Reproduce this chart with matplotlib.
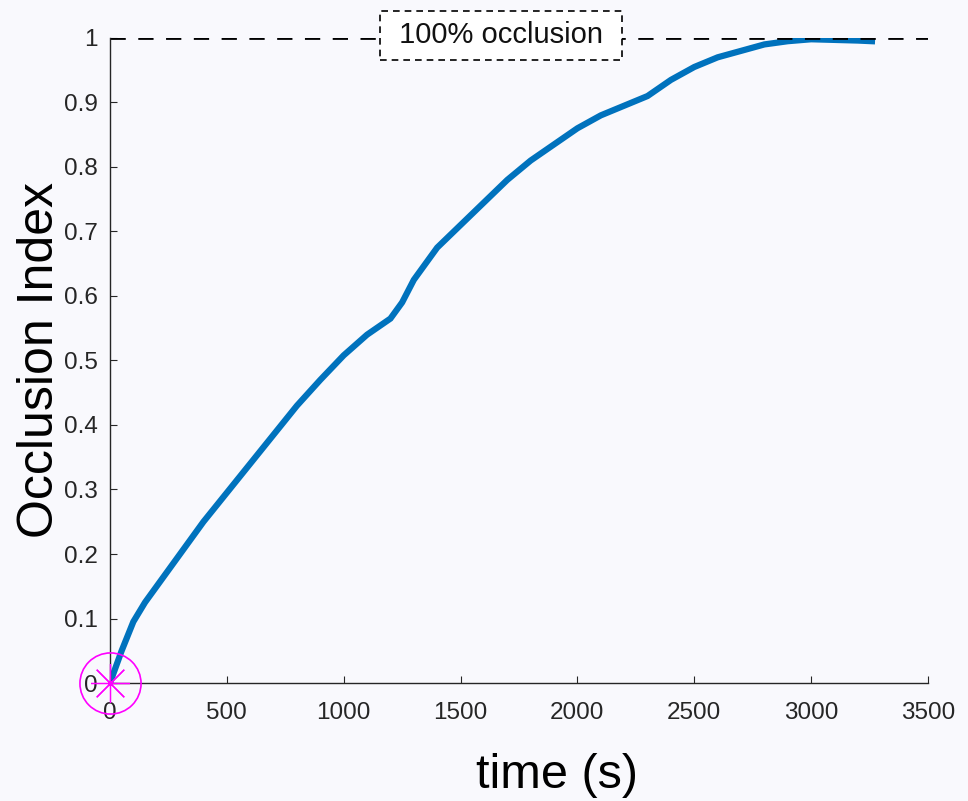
import numpy as np
import matplotlib.pyplot as plt

plt.rcParams['font.family'] = ['Liberation Sans', 'DejaVu Sans']

# occlusion index
time_s = [0, 50, 100, 150, 200, 300, 400, 500, 600, 700, 800, 900, 1000,
          1100, 1200, 1250, 1300, 1400, 1500, 1600, 1700, 1800, 1900, 2000,
          2100, 2200, 2300, 2400, 2500, 2600, 2700, 2800, 2900, 3000, 3100,
          3200, 3260]
occlusion = [0, 0.05, 0.095, 0.125, 0.15, 0.20, 0.25, 0.295, 0.34, 0.385,
             0.43, 0.47, 0.508, 0.54, 0.565, 0.59, 0.625, 0.675, 0.71, 0.745,
             0.78, 0.81, 0.835, 0.86, 0.88, 0.895, 0.91, 0.935, 0.955, 0.97,
             0.98, 0.99, 0.995, 0.998, 0.997, 0.996, 0.995]

x_ticks = [0, 500, 1000, 1500, 2000, 2500, 3000, 3500]
y_ticks = [0, 0.1, 0.2, 0.3, 0.4, 0.5, 0.6, 0.7, 0.8, 0.9, 1]
y_labels = ['0', '0.1', '0.2', '0.3', '0.4', '0.5', '0.6', '0.7', '0.8', '0.9', '1']

bg = '#f9f9fd'
fig = plt.figure(figsize=(9.68, 8.01), dpi=100, facecolor=bg)
ax = fig.add_axes([0.1136, 0.1473, 0.8451, 0.8053], facecolor=bg)

ax.plot(time_s, occlusion, color='#0072BD', lw=4.5, solid_joinstyle='miter')

# 100% occlusion reference line
ax.plot([0, 3500], [1, 1], color='black', lw=2, ls=(0, (5.5, 4.5)))
ax.text(1673, 1.004, ' 100% occlusion ', fontsize=21, ha='center', va='center',
        color='#111111',
        bbox=dict(boxstyle='square,pad=0.36', facecolor='white',
                  edgecolor='black', ls=(0, (4, 3)), lw=1.2))

# start marker
ax.plot([0], [0], marker='o', ms=44, mfc='none', mec='magenta', mew=1.2,
        clip_on=False, zorder=5)
ax.plot([0], [0], marker=(8, 2, 0), ms=28, color='magenta', mew=0.9,
        clip_on=False, zorder=5)

ax.set_xlim(0, 3500)
ax.set_ylim(0, 1)
ax.set_xticks(x_ticks)
ax.set_yticks(y_ticks)
ax.set_yticklabels(y_labels)
ax.tick_params(direction='in', length=5, labelsize=17.5, colors='#262626')
ax.tick_params(axis='x', pad=14)
ax.tick_params(axis='y', pad=9)
for side in ['top', 'right']:
    ax.spines[side].set_visible(False)
for side in ['left', 'bottom']:
    ax.spines[side].set_color('#262626')
    ax.spines[side].set_linewidth(1.0)

ax.set_xlabel('time (s)', fontsize=35)
ax.xaxis.set_label_coords(0.546, -0.108)
ax.set_ylabel('Occlusion Index', fontsize=36)
ax.yaxis.set_label_coords(-0.057, 0.5)

fig.savefig('out.png', dpi=100, facecolor=bg)
